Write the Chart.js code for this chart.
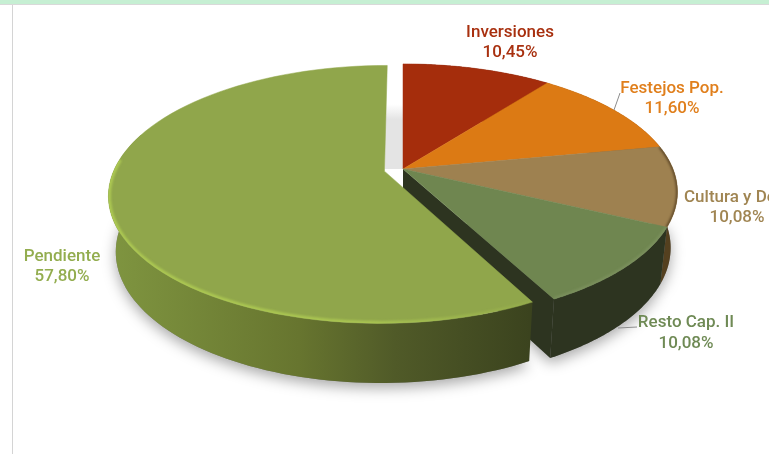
<!DOCTYPE html>
<html>
<head>
<meta charset="utf-8">
<title>Pie</title>
<script src="https://cdn.jsdelivr.net/npm/chart.js@4"></script>
<style>
    html, body { margin: 0; padding: 0; background: #fff; overflow: hidden; }
    #wrap { position: relative; width: 769px; height: 454px; }
    #band { position: absolute; left: 0; top: 0; width: 769px; height: 4px; background: #c6efd3; border-bottom: 1px solid #d9d9d9; }
    #side { position: absolute; left: 12px; top: 5px; width: 1px; height: 449px; background: #d4d4d4; }
    canvas { position: absolute; left: 0; top: 0; }
</style>
</head>
<body>
<div id="wrap">
    <div id="band"></div>
    <div id="side"></div>
    <canvas id="pieChart" width="769" height="454"></canvas>
</div>
<script>
const categories = ["Inversiones", "Festejos Pop.", "Cultura y De", "Resto Cap. II", "Pendiente"];
const values = [10.45, 11.60, 10.08, 10.08, 57.80];
const valueLabels = ["10,45%", "11,60%", "10,08%", "10,08%", "57,80%"];
const topColors = ["#a52d0c", "#dc7a14", "#9e8150", "#6f8650", "#90a64b"];
const textColors = ["#a8300f", "#e07f1c", "#a08552", "#6f8a55", "#93ad4f"];
const sideColors = ["#5c1a08", "#7d4510", "#54401f", "#2d3420", "#505a28"];
const labelSpots = [[510, 32.5, "center"], [672, 88.5, "center"], [684, 197.5, "left"], [686, 323, "center"], [62, 256.5, "center"]];

// tilted disc seen in perspective, numbers fitted to the picture
const view = { x: 403, y: 169, rx: 270, ry: 124, persp: 0.18, depth: 55 };

function project(u, v, lower) {
    const k = 1 - view.persp * v;
    if (lower) {
        return [view.x + 0.975 * view.rx * u / k, view.y + view.depth + 1.03 * view.ry * v / k];
    }
    return [view.x + view.rx * u / k, view.y + view.ry * v / k];
}

function sliceShift(el) {
    const mid = (el.startAngle + el.endAngle) / 2;
    const d = el.options.offset / el.outerRadius;
    return [Math.cos(mid) * d, Math.sin(mid) * d];
}

function rimPoints(el, lower, from, to) {
    const s = sliceShift(el);
    const a0 = from === undefined ? el.startAngle : from;
    const a1 = to === undefined ? el.endAngle : to;
    const pts = [];
    for (let i = 0; i <= 80; i++) {
        const a = a0 + (a1 - a0) * i / 80;
        pts.push(project(s[0] + Math.cos(a), s[1] + Math.sin(a), lower));
    }
    return pts;
}

function tracePath(ctx, pts) {
    ctx.beginPath();
    pts.forEach((p, i) => (i ? ctx.lineTo(p[0], p[1]) : ctx.moveTo(p[0], p[1])));
    ctx.closePath();
}

// soft line along the inside of a slice's rim
function rimGlow(ctx, el, clipPts, style, width, to) {
    ctx.save();
    tracePath(ctx, clipPts);
    ctx.clip();
    ctx.filter = "blur(1px)";
    ctx.strokeStyle = style;
    ctx.lineWidth = width;
    ctx.beginPath();
    rimPoints(el, false, el.startAngle, to).forEach((p, j) => (j ? ctx.lineTo(p[0], p[1]) : ctx.moveTo(p[0], p[1])));
    ctx.stroke();
    ctx.restore();
}

function drawSlice(ctx, el, i) {
    const s = sliceShift(el);
    const apex = project(s[0], s[1], false);
    const apexLow = project(s[0], s[1], true);
    const top = rimPoints(el, false);

    // outer wall, only the part that faces the viewer
    const wallEnd = Math.min(el.endAngle, Math.PI * 1.1);
    if (el.startAngle < wallEnd) {
        let wallFill = sideColors[i];
        if (i === 4) {
            wallFill = ctx.createLinearGradient(110, 0, 530, 0);
            wallFill.addColorStop(0, "#7f9540");
            wallFill.addColorStop(0.45, "#67752f");
            wallFill.addColorStop(0.68, "#505a28");
            wallFill.addColorStop(1, "#3b431e");
        }
        ctx.fillStyle = wallFill;
        const wallTop = rimPoints(el, false, el.startAngle, wallEnd);
        const wallLow = rimPoints(el, true, el.startAngle, wallEnd);
        tracePath(ctx, wallTop.concat(wallLow.reverse()));
        ctx.fill();
    }

    // cut face at the end of the slice that turns towards the viewer
    if (i === 3) {
        const last = rimPoints(el, true);
        ctx.fillStyle = sideColors[3];
        tracePath(ctx, [apex, top[top.length - 1], last[last.length - 1], apexLow]);
        ctx.fill();
    }

    // top face
    ctx.fillStyle = topColors[i];
    ctx.strokeStyle = topColors[i];
    ctx.lineWidth = 0.5;
    tracePath(ctx, [apex].concat(top));
    ctx.fill();
    ctx.stroke();

    const face = [apex].concat(top);
    if (i === 2) {
        rimGlow(ctx, el, face, "rgba(70,50,25,0.7)", 3, el.endAngle);
    }
    if (i === 3) {
        rimGlow(ctx, el, face, "rgba(130,150,100,0.6)", 4, el.endAngle);
    }
    // light bevel along the front of the big slice
    if (i === 4) {
        const bevel = ctx.createLinearGradient(110, 0, 530, 0);
        bevel.addColorStop(0, "rgba(172,200,82,1)");
        bevel.addColorStop(0.6, "rgba(172,200,82,0.9)");
        bevel.addColorStop(1, "rgba(172,200,82,0.15)");
        rimGlow(ctx, el, face, bevel, 5, Math.PI * 1.03);
    }
}

const pie3d = {
    id: "pie3d",
    beforeDatasetsDraw(chart) {
        const ctx = chart.ctx;
        const arcs = chart.getDatasetMeta(0).data;

        // soft shadow under everything
        ctx.save();
        ctx.shadowColor = "rgba(0,0,0,0.34)";
        ctx.shadowBlur = 14;
        ctx.shadowOffsetY = 5;
        ctx.fillStyle = "#808080";
        arcs.forEach((el) => {
            const s = sliceShift(el);
            if (el.startAngle < Math.PI * 0.5 && el.endAngle > 0) {
                tracePath(ctx, [project(s[0], s[1], true)].concat(rimPoints(el, true, Math.max(el.startAngle, 0), Math.min(el.endAngle, Math.PI * 1.1))));
                ctx.fill();
            }
        });
        ctx.restore();

        // shadow seen in the gap between the big slice and the others
        const gapLeft = project(sliceShift(arcs[4])[0], 0, false)[0];
        const gapFill = ctx.createLinearGradient(0, view.y - 65, 0, view.y - 50);
        gapFill.addColorStop(0, "rgba(228,228,228,0)");
        gapFill.addColorStop(1, "rgba(228,228,228,1)");
        ctx.fillStyle = gapFill;
        ctx.fillRect(gapLeft, view.y - 65, view.x - gapLeft, 65);

        [0, 1, 2, 3, 4].forEach((i) => drawSlice(ctx, arcs[i], i));

        // labels
        ctx.textBaseline = "middle";
        categories.forEach((name, i) => {
            const spot = labelSpots[i];
            ctx.font = "500 17px Roboto";
            ctx.fillStyle = textColors[i];
            ctx.textAlign = spot[2];
            ctx.fillText(name, spot[0], spot[1]);
            ctx.textAlign = "center";
            const cx = spot[2] === "left" ? 737 : spot[0];
            ctx.fillText(valueLabels[i], cx, spot[1] + 20.5);
        });

        // leader lines
        ctx.strokeStyle = "#8c8c8c";
        ctx.lineWidth = 1;
        ctx.beginPath();
        ctx.moveTo(614, 110);
        ctx.lineTo(620, 93);
        ctx.moveTo(618, 328);
        ctx.lineTo(637, 327);
        ctx.stroke();
        return false;
    },
};

const pieChart = new Chart(document.getElementById("pieChart").getContext("2d"), {
    type: "pie",
    data: {
        labels: categories,
        datasets: [
            {
                data: values,
                backgroundColor: topColors,
                borderWidth: 0,
                offset: [0, 0, 0, 0, 15.5],
            },
        ],
    },
    options: {
        responsive: false,
        animation: false,
        plugins: {
            legend: { display: false },
            tooltip: { enabled: false },
        },
    },
    plugins: [pie3d],
});
</script>
</body>
</html>
